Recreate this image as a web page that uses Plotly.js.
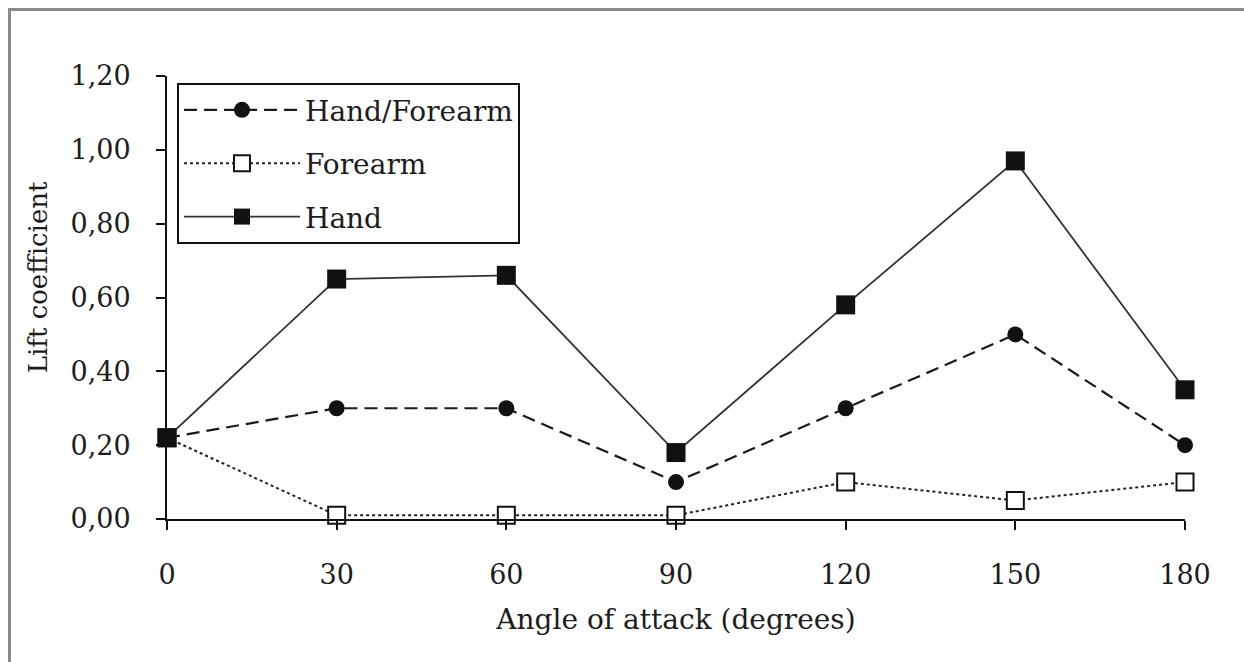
<!DOCTYPE html>
<html>
<head>
<meta charset="utf-8">
<script src="https://cdn.plot.ly/plotly-3.0.1.min.js"></script>
<style>
  html, body { margin: 0; padding: 0; background: #fff; overflow: hidden; }
  #chart { width: 1244px; height: 662px; position: absolute; left: 0; top: 0; }
  #frame { position: absolute; left: 8px; top: 8px; width: 1260px; height: 700px;
           border-left: 3px solid #8a8a8a; border-top: 3px solid #8a8a8a; pointer-events: none; }
</style>
</head>
<body>
<div id="chart"></div>
<div id="frame"></div>
<script>
const angles = [0, 30, 60, 90, 120, 150, 180];
const handForearm = [0.22, 0.30, 0.30, 0.10, 0.30, 0.50, 0.20];
const forearm = [0.22, 0.01, 0.01, 0.01, 0.10, 0.05, 0.10];
const hand = [0.22, 0.65, 0.66, 0.18, 0.58, 0.97, 0.35];
const yTickVals = [0, 0.2, 0.4, 0.6, 0.8, 1.0, 1.2];
const yTickText = ["0,00", "0,20", "0,40", "0,60", "0,80", "1,00", "1,20"];
const xTickVals = [0, 30, 60, 90, 120, 150, 180];

const FONT = "DejaVu Serif, Liberation Serif, serif";
const INK = "#1c1c1c";

const traces = [
  {
    x: angles, y: handForearm, name: "Hand/Forearm", mode: "lines+markers",
    legendgroup: "a",
    line: { color: "#1a1a1a", width: 2.2, dash: "13px,7px" },
    marker: { symbol: "circle", size: 16, color: "#111", line: { width: 0 } },
    cliponaxis: false
  },
  {
    x: angles, y: forearm, name: "Forearm", mode: "lines+markers",
    legendgroup: "b",
    line: { color: "#222", width: 2, dash: "3px,3px" },
    marker: { symbol: "square", size: 17, color: "#fff", line: { width: 2, color: "#111" } },
    cliponaxis: false
  },
  {
    x: angles, y: hand, name: "Hand", mode: "lines+markers",
    legendgroup: "c",
    line: { color: "#333", width: 1.8 },
    marker: { symbol: "square", size: 19, color: "#111", line: { width: 0 } },
    cliponaxis: false
  }
];

const layout = {
  width: 1244, height: 662,
  margin: { l: 167, r: 59, t: 76, b: 143 },
  paper_bgcolor: "rgba(0,0,0,0)",
  plot_bgcolor: "rgba(0,0,0,0)",
  font: { family: FONT, size: 26, color: INK },
  showlegend: true,
  legend: {
    x: 0.0098, y: 0.984, xanchor: "left", yanchor: "top",
    bgcolor: "#fff", bordercolor: "#111", borderwidth: 2,
    font: { family: FONT, size: 28, color: INK },
    itemwidth: 116, traceorder: "grouped", tracegroupgap: 14
  },
  xaxis: {
    range: [0, 180], tickvals: xTickVals, ticktext: xTickVals.map(String),
    showgrid: false, zeroline: false, showline: true, linecolor: "#111", linewidth: 2,
    ticks: "outside", ticklen: 9, tickwidth: 2, tickcolor: "#111",
    ticklabelstandoff: 22,
    tickfont: { family: FONT, size: 27, color: INK },
    title: { text: "Angle of attack (degrees)", font: { family: FONT, size: 28, color: INK }, standoff: 20 }
  },
  yaxis: {
    range: [0, 1.2], tickvals: yTickVals, ticktext: yTickText,
    showgrid: false, zeroline: false, showline: true, linecolor: "#111", linewidth: 2,
    ticks: "outside", ticklen: 9, tickwidth: 2, tickcolor: "#111",
    ticklabelstandoff: 20,
    tickfont: { family: FONT, size: 27, color: INK }
  },
  annotations: [
    {
      xref: "paper", yref: "paper", x: -0.127, y: 0.545, xanchor: "center", yanchor: "middle",
      text: "Lift coefficient", textangle: -90, showarrow: false,
      font: { family: FONT, size: 26, color: INK }
    }
  ]
};

Plotly.newPlot("chart", traces, layout, { displayModeBar: false, staticPlot: true });
</script>
</body>
</html>
